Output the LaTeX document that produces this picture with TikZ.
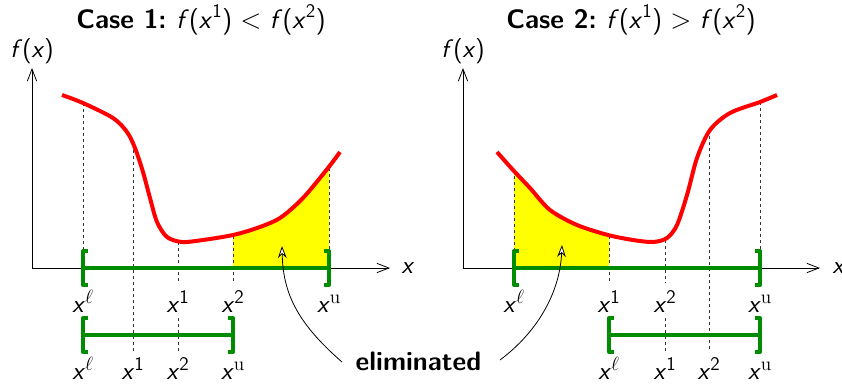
\documentclass[tikz,border=0pt]{standalone}
\usepackage{amsmath}
\usetikzlibrary{arrows.meta}
\definecolor{cgreen}{RGB}{0,140,0}
\definecolor{cyellow}{RGB}{255,255,0}
\newcommand\vx{\textit{x}}
\newcommand\vf{\textit{f}}
\newcommand\lab[1]{\vx$^{#1}$}
\begin{document}
\begin{tikzpicture}[x=0.75pt,y=-0.75pt, line join=round,
  curve/.style={red, line width=3pt},
  brk/.style={cgreen, line width=3pt},
  dsh/.style={black!80, line width=0.6pt, dash pattern=on 2.5pt off 2pt},
  axis/.style={line width=0.6pt, -{Straight Barb[length=9pt,width=7pt]}},
  lbl/.style={font=\sffamily\fontsize{19}{22}\selectfont, anchor=base, inner sep=0pt},
  ttl/.style={font=\sffamily\fontsize{20}{24}\selectfont, anchor=base, inner sep=0pt},
  elim/.style={line width=0.6pt, -{Stealth[fill=white, length=9pt, width=6.5pt]}},
]
\useasboundingbox (0,0) rectangle (842,383);

% ---------------- LEFT PANEL ----------------
\begin{scope}
\clip (233,0) rectangle (329,268);
\fill[cyellow] plot[smooth, tension=0.5] coordinates {(62,95) (83,103) (113,118) (127,132) (135,148) (143,172) (150,198) (157,222) (167,237) (182,242) (203,240) (233,235) (257,228) (280,218) (303,198) (328,168) (340,152)} -- (340,268) -- (60,268) -- cycle;
\end{scope}

\coordinate (oL) at (32,268);
\coordinate (yL) at (32,68);
\coordinate (xL) at (390,268);
\draw[axis] (oL) -- (yL);
\draw[axis] (oL) -- (xL);

\draw[dsh] (83,103) -- (83,251);
\draw[dsh] (133,144) -- (133,352);
\draw[dsh] (178,242) -- (178,283);
\draw[dsh] (178,318) -- (178,352);
\draw[dsh] (233,236) -- (233,283);
\draw[dsh] (329,168) -- (329,251);

\draw[curve] plot[smooth, tension=0.5] coordinates {(62,95) (83,103) (113,118) (127,132) (135,148) (143,172) (150,198) (157,222) (167,237) (182,242) (203,240) (233,235) (257,228) (280,218) (303,198) (328,168) (340,152)};

\coordinate (bLa) at (83,268);
\coordinate (bLb) at (329,268);
\coordinate (bLc) at (83,335);
\coordinate (bLd) at (233,335);
\draw[brk] (bLa) -- (bLb);
\draw[brk] (bLa) ++(5,-17) -- ++(-5,0) -- ++(0,34) -- ++(5,0);
\draw[brk] (bLb) ++(-5,-17) -- ++(5,0) -- ++(0,34) -- ++(-5,0);
\draw[brk] (bLc) -- (bLd);
\draw[brk] (bLc) ++(5,-17) -- ++(-5,0) -- ++(0,34) -- ++(5,0);
\draw[brk] (bLd) ++(-5,-17) -- ++(5,0) -- ++(0,34) -- ++(-5,0);

\node[ttl] (tL) at (201,28) {\bfseries Case 1:\ \mdseries\vf(\vx$^{\mathsf{1}}$) $<$ \vf(\vx$^{\mathsf{2}}$)};
\node[lbl] (fL) at (32,57) {\vf(\vx)};
\node[lbl, anchor=center] (xlabL) at (408,268) {\vx};

\node[lbl] (L1a) at (83,312) {\lab{\ell}};
\node[lbl] (L1b) at (178,312) {\lab{\mathsf{1}}};
\node[lbl] (L1c) at (233,312) {\lab{\mathsf{2}}};
\node[lbl] (L1d) at (329,312) {\lab{\mathrm{u}}};
\node[lbl] (L2a) at (83,379) {\lab{\ell}};
\node[lbl] (L2b) at (133,379) {\lab{\mathsf{1}}};
\node[lbl] (L2c) at (178,379) {\lab{\mathsf{2}}};
\node[lbl] (L2d) at (233,379) {\lab{\mathrm{u}}};

% ---------------- RIGHT PANEL ----------------
\begin{scope}
\clip (514,0) rectangle (609,268);
\fill[cyellow] plot[smooth, tension=0.5] coordinates {(497,152) (513,170) (530,188) (550,210) (577,225) (608,235) (633,240) (653,242) (667,238) (677,225) (687,195) (697,158) (710,130) (730,113) (760,102) (777,95)} -- (777,268) -- (497,268) -- cycle;
\end{scope}

\coordinate (oR) at (463,268);
\coordinate (yR) at (463,68);
\coordinate (xR) at (820,268);
\draw[axis] (oR) -- (yR);
\draw[axis] (oR) -- (xR);

\draw[dsh] (514,170) -- (514,251);
\draw[dsh] (609,236) -- (609,283);
\draw[dsh] (665,240) -- (665,283);
\draw[dsh] (665,318) -- (665,352);
\draw[dsh] (709,136) -- (709,352);
\draw[dsh] (760,102) -- (760,251);

\draw[curve] plot[smooth, tension=0.5] coordinates {(497,152) (513,170) (530,188) (550,210) (577,225) (608,235) (633,240) (653,242) (667,238) (677,225) (687,195) (697,158) (710,130) (730,113) (760,102) (777,95)};

\coordinate (bRa) at (514,268);
\coordinate (bRb) at (760,268);
\coordinate (bRc) at (609,335);
\coordinate (bRd) at (760,335);
\draw[brk] (bRa) -- (bRb);
\draw[brk] (bRa) ++(5,-17) -- ++(-5,0) -- ++(0,34) -- ++(5,0);
\draw[brk] (bRb) ++(-5,-17) -- ++(5,0) -- ++(0,34) -- ++(-5,0);
\draw[brk] (bRc) -- (bRd);
\draw[brk] (bRc) ++(5,-17) -- ++(-5,0) -- ++(0,34) -- ++(5,0);
\draw[brk] (bRd) ++(-5,-17) -- ++(5,0) -- ++(0,34) -- ++(-5,0);

\node[ttl] (tR) at (631,28) {\bfseries Case 2:\ \mdseries\vf(\vx$^{\mathsf{1}}$) $>$ \vf(\vx$^{\mathsf{2}}$)};
\node[lbl] (fR) at (463,57) {\vf(\vx)};
\node[lbl, anchor=center] (xlabR) at (839,268) {\vx};

\node[lbl] (R1a) at (514,312) {\lab{\ell}};
\node[lbl] (R1b) at (609,312) {\lab{\mathsf{1}}};
\node[lbl] (R1c) at (665,312) {\lab{\mathsf{2}}};
\node[lbl] (R1d) at (760,312) {\lab{\mathrm{u}}};
\node[lbl] (R2a) at (609,379) {\lab{\ell}};
\node[lbl] (R2b) at (665,379) {\lab{\mathsf{1}}};
\node[lbl] (R2c) at (709,379) {\lab{\mathsf{2}}};
\node[lbl] (R2d) at (760,379) {\lab{\mathrm{u}}};

% ---------------- ELIMINATED ----------------
\node[ttl, font=\sffamily\bfseries\fontsize{20}{24}\selectfont] (el) at (418.5,370) {eliminated};
\coordinate (aL0) at (342,362);
\coordinate (aL1) at (282,246);
\coordinate (aR0) at (500,360);
\coordinate (aR1) at (562,245);
\draw[elim] (aL0) .. controls (296,322) and (283,292) .. (aL1);
\draw[elim] (aR0) .. controls (540,330) and (560,290) .. (aR1);
\end{tikzpicture}
\end{document}
